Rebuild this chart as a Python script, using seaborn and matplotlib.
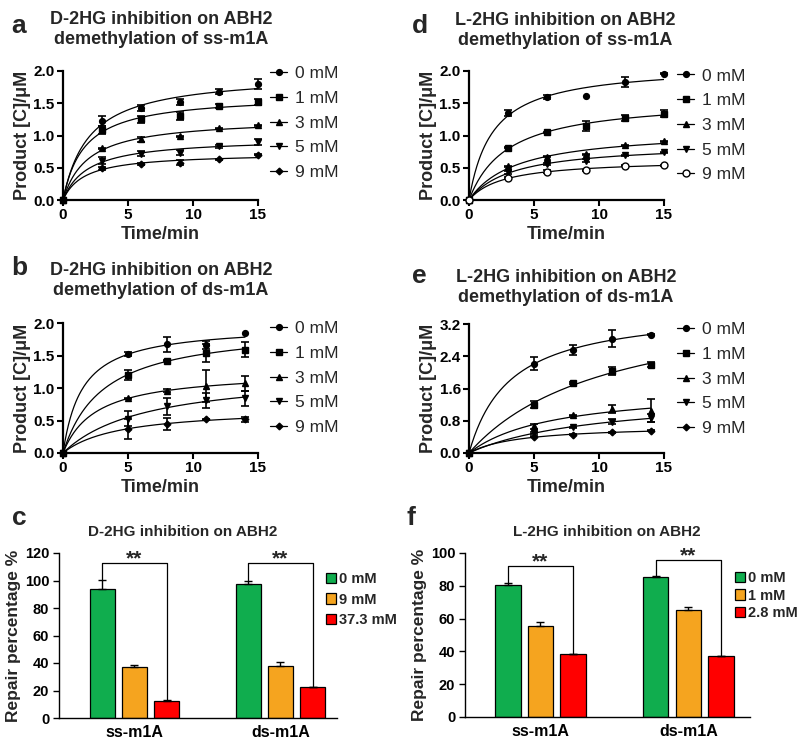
import numpy as np
import pandas as pd
import matplotlib
matplotlib.use("Agg")
import matplotlib.pyplot as plt
import seaborn as sns
from matplotlib.lines import Line2D

# ---- data ----
conc_labels = ["0 mM", "1 mM", "3 mM", "5 mM", "9 mM"]

t_ss = np.array([0, 3, 6, 9, 12, 15])
t_ds = np.array([0, 5, 8, 11, 14])

# a: D-2HG, ss-m1A
a_vals = [[0, 1.22, 1.43, 1.52, 1.68, 1.80],
          [0, 1.09, 1.25, 1.30, 1.46, 1.52],
          [0, 0.80, 0.94, 0.99, 1.11, 1.16],
          [0, 0.61, 0.72, 0.73, 0.83, 0.90],
          [0, 0.49, 0.56, 0.58, 0.63, 0.70]]
a_errs = [[0, 0.08, 0.05, 0.05, 0.04, 0.08],
          [0, 0.06, 0.06, 0.06, 0.03, 0.05],
          [0, 0.01, 0.04, 0.01, 0.01, 0.01],
          [0, 0.05, 0.04, 0.04, 0.02, 0.04],
          [0, 0.02, 0.01, 0.04, 0.01, 0.01]]

# d: L-2HG, ss-m1A
d_vals = [[0, 1.35, 1.60, 1.61, 1.83, 1.96],
          [0, 0.81, 1.05, 1.15, 1.27, 1.34],
          [0, 0.52, 0.67, 0.71, 0.85, 0.91],
          [0, 0.43, 0.56, 0.61, 0.69, 0.74],
          [0, 0.34, 0.44, 0.46, 0.53, 0.54]]
d_errs = [[0, 0.05, 0.03, 0, 0.08, 0.01],
          [0, 0.01, 0.01, 0.08, 0.05, 0.05],
          [0, 0.01, 0.01, 0.01, 0.01, 0.01],
          [0, 0.02, 0.02, 0.02, 0.01, 0.01],
          [0, 0.02, 0.02, 0.01, 0.01, 0.01]]

# b: D-2HG, ds-m1A
b_vals = [[0, 1.53, 1.67, 1.66, 1.84],
          [0, 1.20, 1.42, 1.54, 1.59],
          [0, 0.84, 0.96, 1.03, 1.07],
          [0, 0.53, 0.72, 0.81, 0.84],
          [0, 0.37, 0.45, 0.52, 0.52]]
b_errs = [[0, 0.03, 0.11, 0.06, 0],
          [0, 0.07, 0.01, 0.14, 0.12],
          [0, 0.01, 0.02, 0.24, 0.11],
          [0, 0.11, 0.13, 0.12, 0.12],
          [0, 0.15, 0.09, 0.01, 0.04]]

# e: L-2HG, ds-m1A
e_vals = [[0, 2.22, 2.55, 2.84, 2.93],
          [0, 1.20, 1.73, 2.03, 2.19],
          [0, 0.66, 0.94, 1.09, 1.05],
          [0, 0.50, 0.64, 0.78, 0.86],
          [0, 0.40, 0.45, 0.51, 0.55]]
e_errs = [[0, 0.15, 0.12, 0.22, 0.01],
          [0, 0.08, 0.03, 0.10, 0.06],
          [0, 0.07, 0.01, 0.09, 0.28],
          [0, 0.03, 0.01, 0.06, 0.10],
          [0, 0.01, 0.01, 0.01, 0.01]]

# c / f: repair percentage bars
substrates = ["ss-m1A", "ds-m1A"]
c_conc = ["0 mM", "9 mM", "37.3 mM"]
c_vals = [[93.8, 97.8], [37.1, 38.1], [12.6, 22.3]]
c_errs = [[6.5, 1.5], [1.5, 2.5], [0.3, 0.6]]
f_conc = ["0 mM", "1 mM", "2.8 mM"]
f_vals = [[80.7, 85.2], [55.3, 65.0], [38.4, 37.0]]
f_errs = [[1.0, 0.8], [2.7, 2.0], [0.3, 0.5]]

# ---- style ----
sns.set_theme(style="ticks")
plt.rcParams["font.family"] = ["Liberation Sans", "DejaVu Sans"]

W, H = 800, 749
fig = plt.figure(figsize=(8, 7.49), dpi=100)


def px_axes(l, t, r, b):
    return fig.add_axes([l / W, 1 - b / H, (r - l) / W, (b - t) / H])


def fig_text(x, y, s, **kw):
    fig.text(x / W, 1 - y / H, s, ha="center", va="baseline", **kw)


def fit_hyperbola(t, y):
    # one-site binding fit y = Bmax*t/(K+t), least squares over a K grid
    best = None
    for K in np.linspace(0.05, 60, 6000):
        g = t / (K + t)
        B = (y @ g) / (g @ g)
        sse = np.sum((y - B * g) ** 2)
        if best is None or sse < best[0]:
            best = (sse, B, K)
    return best[1], best[2]


def kinetics(ax, t, vals, errs, markers, ylim, yticks, leg_xy):
    tfit = np.linspace(0, t[-1], 200)
    handles = []
    for y, e, (m, ms, mfc) in zip(vals, errs, markers):
        y = np.array(y)
        e = np.array(e)
        B, K = fit_hyperbola(t, y)
        sns.lineplot(x=tfit, y=B * tfit / (K + tfit), ax=ax, color="black", lw=0.9)
        ok = e > 0
        ax.errorbar(t[ok], y[ok], yerr=e[ok], fmt="none", ecolor="black",
                    elinewidth=1.2, capsize=3.2, capthick=1.2, clip_on=False)
        ax.plot(t, y, ls="none", marker=m, ms=ms, mfc=mfc, mec="black",
                mew=1.0, clip_on=False, zorder=5)
        handles.append(Line2D([0], [0], color="black", lw=0.9, marker=m, ms=ms,
                              mfc=mfc, mec="black", mew=1.0))
    ax.set_xlim(0, 15)
    ax.set_ylim(*ylim)
    ax.set_xticks([0, 5, 10, 15])
    ax.set_yticks(yticks)
    ax.set_yticklabels([f"{v:.1f}" for v in yticks])
    for sp in ["top", "right"]:
        ax.spines[sp].set_visible(False)
    for sp in ["left", "bottom"]:
        ax.spines[sp].set_linewidth(1.6)
        ax.spines[sp].set_color("black")
    ax.tick_params(direction="out", length=4, width=1.5, colors="black",
                   labelsize=11, pad=2)
    for lab in ax.get_xticklabels() + ax.get_yticklabels():
        lab.set_fontweight("bold")
    ax.set_xlabel("Time/min", fontsize=13, fontweight="bold")
    ax.set_ylabel("Product [C]/\u03bcM", fontsize=13, fontweight="bold")
    ax.xaxis.set_label_coords(0.5, -0.2)
    ax.yaxis.set_label_coords(-0.165, 0.5)
    ax.legend(handles, conc_labels, loc="upper left", bbox_to_anchor=leg_xy,
              frameon=False, fontsize=12.5, handlelength=1.0, handletextpad=0.45,
              labelspacing=0.55, borderpad=0, borderaxespad=0)


mk = [("o", 4.2, "black"), ("s", 4.0, "black"), ("^", 4.2, "black"),
      ("v", 4.2, "black"), ("D", 3.4, "black")]
mk_d = mk[:4] + [("o", 5.0, "white")]

ax_a = px_axes(63, 71, 258, 200)
kinetics(ax_a, t_ss, a_vals, a_errs, mk, (0, 2.0), [0, 0.5, 1.0, 1.5, 2.0], (1.062, 1.037))
ax_d = px_axes(469, 71, 664, 200)
kinetics(ax_d, t_ss, d_vals, d_errs, mk_d, (0, 2.0), [0, 0.5, 1.0, 1.5, 2.0], (1.067, 1.02))
ax_b = px_axes(63, 323, 258, 453)
kinetics(ax_b, t_ds, b_vals, b_errs, mk, (0, 2.0), [0, 0.5, 1.0, 1.5, 2.0], (1.062, 1.015))
ax_e = px_axes(469, 324, 664, 453)
kinetics(ax_e, t_ds, e_vals, e_errs, mk, (0, 3.2), [0, 0.8, 1.6, 2.4, 3.2], (1.067, 1.015))

bar_colors = ["#10AD4E", "#F5A41F", "#FF0000"]


def bars(ax, conc, vals, errs, ylim, yticks, bracket_h, leg_xy, leg_space):
    df = pd.DataFrame({
        "substrate": np.tile(substrates, len(conc)),
        "conc": np.repeat(conc, len(substrates)),
        "value": np.ravel(vals),
    })
    sns.barplot(data=df, x="substrate", y="value", hue="conc", order=substrates,
                hue_order=conc, palette=bar_colors, saturation=1, width=0.66,
                gap=0.22, edgecolor="black", linewidth=0.9, errorbar=None, ax=ax)
    tops = []
    for cont, err in zip(ax.containers, errs):
        row = []
        for bar, e in zip(cont, err):
            x = bar.get_x() + bar.get_width() / 2
            h = bar.get_height()
            ax.errorbar([x], [h], yerr=[[0], [e]], fmt="none", ecolor="black",
                        elinewidth=1.0, capsize=3, capthick=1.0)
            row.append((x, h + e))
        tops.append(row)
    for j in range(len(substrates)):
        (x0, y0), (x1, y1) = tops[0][j], tops[-1][j]
        hh = bracket_h[j]
        ax.plot([x0, x0, x1, x1], [y0, hh, hh, y1], color="black", lw=0.9)
        ax.text((x0 + x1) / 2, hh - 0.035 * ylim[1], "**", ha="center", va="bottom",
                fontsize=15, fontweight="bold")
    ax.set_ylim(*ylim)
    ax.set_yticks(yticks)
    ax.set_xlabel("")
    ax.set_ylabel("Repair percentage %", fontsize=12.5, fontweight="bold")
    ax.yaxis.set_label_coords(-0.135, 0.5)
    for sp in ["top", "right"]:
        ax.spines[sp].set_visible(False)
    for sp in ["left", "bottom"]:
        ax.spines[sp].set_linewidth(1.0)
        ax.spines[sp].set_color("black")
    ax.tick_params(axis="y", direction="out", length=4, width=1.0, colors="black",
                   labelsize=10.5, pad=3)
    ax.tick_params(axis="x", length=0, labelsize=11.5, pad=5, colors="black")
    for lab in ax.get_xticklabels() + ax.get_yticklabels():
        lab.set_fontweight("bold")
    h, l = ax.get_legend_handles_labels()
    ax.legend(h, l, loc="upper left", bbox_to_anchor=leg_xy, frameon=False,
              prop={"weight": "bold", "size": 10.5}, handlelength=0.7,
              handleheight=0.7, handletextpad=0.2, labelspacing=leg_space,
              borderpad=0, borderaxespad=0)


ax_c = px_axes(59, 553, 337, 718)
bars(ax_c, c_conc, c_vals, c_errs, (0, 120), range(0, 121, 20), [112.7, 112.7],
     (0.96, 0.885), 0.45)
ax_c.set_xlim(-0.517, 1.387)
ax_f = px_axes(465, 553, 750, 717)
bars(ax_f, f_conc, f_vals, f_errs, (0, 100), range(0, 101, 20), [92.3, 96.0],
     (0.947, 0.89), 0.25)
ax_f.set_xlim(-0.51, 1.417)

# ---- titles and panel letters ----
tkw = dict(fontsize=13, fontweight="bold")
fig_text(161, 24, "D-2HG inhibition on ABH2", **tkw)
fig_text(161, 44, "demethylation of ss-m1A", **tkw)
fig_text(565, 25, "L-2HG inhibition on ABH2", **tkw)
fig_text(565, 45, "demethylation of ss-m1A", **tkw)
fig_text(161, 275, "D-2HG inhibition on ABH2", **tkw)
fig_text(161, 295, "demethylation of ds-m1A", **tkw)
fig_text(566, 282, "L-2HG inhibition on ABH2", **tkw)
fig_text(566, 302, "demethylation of ds-m1A", **tkw)
fig_text(183, 536, "D-2HG inhibition on ABH2", fontsize=11, fontweight="bold")
fig_text(607, 536, "L-2HG inhibition on ABH2", fontsize=11, fontweight="bold")

lkw = dict(fontsize=19, fontweight="bold")
fig_text(19, 33, "a", **lkw)
fig_text(420, 33, "d", **lkw)
fig_text(19, 275, "b", **lkw)
fig_text(419, 283, "e", **lkw)
fig_text(19, 525, "c", **lkw)
fig_text(411, 525, "f", **lkw)

fig.savefig("out.png", dpi=100)
